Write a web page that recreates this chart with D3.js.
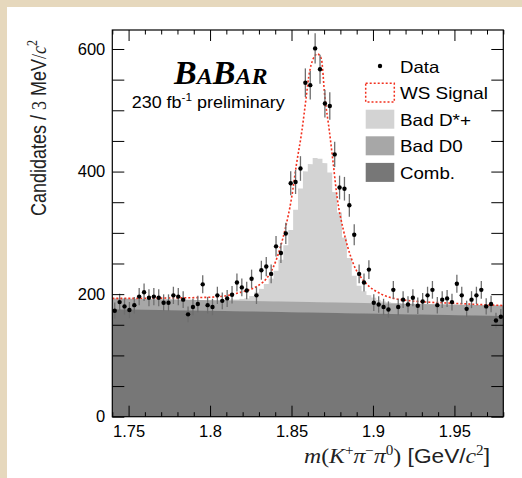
<!DOCTYPE html>
<html>
<head>
<meta charset="utf-8">
<script src="https://cdn.jsdelivr.net/npm/d3@7"></script>
<style>
  body { margin: 0; background: #e6d8bd; }
  svg { display: block; }
</style>
</head>
<body>
<svg id="chart" width="522" height="478"></svg>
<script>
// m(K+ pi- pi0) spectrum, 80 bins of 3 MeV between 1.74 and 1.98 GeV/c^2
const massRange = [1.74, 1.98];
const binWidth = 0.003;

// observed candidates per bin
const dataCounts = [
  173, 187, 180, 174, 182, 196, 203, 194, 196, 194,
  186, 186, 198, 196, 191, 167, 179, 184, 216, 182,
  179, 198, 189, 193, 199, 219, 211, 206, 225, 198,
  239, 245, 233, 278, 267, 299, 381, 383, 405, 545,
  541, 601, 567, 511, 507, 428, 374, 372, 345, 297,
  233, 219, 240, 186, 183, 179, 175, 207, 179, 191,
  183, 194, 181, 188, 198, 207, 182, 191, 193, 187,
  217, 198, 176, 191, 198, 207, 180, 184, 157, 163
];

// mis-reconstructed D*+ component, per bin
const badDstarCounts = [
  0, 0, 0, 0, 0, 0, 0, 0, 0, 0,
  0, 0, 0, 0, 0, 0, 0, 0, 0, 0,
  0, 0, 1, 1, 2, 2, 3, 4, 8, 14,
  20, 28, 37, 50, 68, 92, 117, 150, 185, 213,
  225, 235, 234, 227, 212, 180, 147, 106, 73, 44,
  28, 19, 13, 9, 5, 3, 2, 1, 1, 0,
  0, 0, 0, 0, 0, 0, 0, 0, 0, 0,
  0, 0, 0, 0, 0, 0, 0, 0, 0, 0
];

// smooth background components, level at the low and high mass edge
const badD0Ends = [17.5, 17.0];
const combEnds = [175.5, 164.5];

// total fit curve (WS signal on top of the backgrounds)
const fitMass = [1.740, 1.770, 1.800, 1.816, 1.8327, 1.8405, 1.8459, 1.8501, 1.8531, 1.8563,
                 1.8590, 1.8606, 1.8635, 1.8659, 1.8683, 1.8705, 1.8732, 1.8756, 1.8780, 1.8819,
                 1.8879, 1.8960, 1.9044, 1.9200, 1.9500, 1.9800];
const fitValue = [193, 193.5, 195, 201, 220, 255, 304, 358, 413, 465,
                  521, 555, 585, 592, 584, 521, 467, 413, 358, 304,
                  250, 217, 201, 190, 185, 181.5];

const yTicks = [0, 50, 100, 150, 200, 250, 300, 350, 400, 450, 500, 550, 600];
const yLabels = [0, 200, 400, 600];
const xMajor = [1.75, 1.8, 1.85, 1.9, 1.95];
const xMinor = [1.74, 1.76, 1.77, 1.78, 1.79, 1.81, 1.82, 1.83, 1.84, 1.86, 1.87, 1.88, 1.89,
                1.91, 1.92, 1.93, 1.94, 1.96, 1.97, 1.98];
const xLabels = ["1.75", "1.8", "1.85", "1.9", "1.95"];
const legendLabels = ["Data", "WS Signal", "Bad D*+", "Bad D0", "Comb."];

const colors = { comb: "#777777", badD0: "#a7a7a7", badDstar: "#d3d3d3", fit: "#f2301e" };

const svg = d3.select("#chart");
const W = 522, H = 478;
const plot = { left: 112.3, right: 503.3, top: 30, bottom: 416.7 };

// page background and white canvas
svg.append("rect").attr("width", W).attr("height", H).attr("fill", "#e6d8bd");
svg.append("rect").attr("x", 7).attr("y", 7).attr("width", W - 7).attr("height", H - 7).attr("fill", "#ffffff");

const x = d3.scaleLinear().domain(massRange).range([plot.left, plot.right]);
const y = d3.scaleLinear().domain([0, 631]).range([plot.bottom, plot.top]);

const combAt = d3.scaleLinear().domain(massRange).range(combEnds);
const badD0At = d3.scaleLinear().domain(massRange).range(badD0Ends);
const baseAt = m => combAt(m) + badD0At(m);

const g = svg.append("g");

// Bad D*+ stacked histogram on top of the smooth backgrounds
const dstarPts = [];
badDstarCounts.forEach((c, i) => {
  const e0 = massRange[0] + i * binWidth, e1 = e0 + binWidth;
  dstarPts.push({ m: e0, lo: baseAt(e0), hi: baseAt(e0) + c });
  dstarPts.push({ m: e1, lo: baseAt(e1), hi: baseAt(e1) + c });
});
g.append("path")
  .datum(dstarPts)
  .attr("fill", colors.badDstar)
  .attr("d", d3.area().x(d => x(d.m)).y0(d => y(d.lo) + 0.5).y1(d => y(d.hi)));

// Bad D0 band
g.append("path")
  .datum(massRange)
  .attr("fill", colors.badD0)
  .attr("d", d3.area().x(m => x(m)).y0(m => y(combAt(m)) + 0.5).y1(m => y(baseAt(m))));

// combinatorial background
g.append("path")
  .datum(massRange)
  .attr("fill", colors.comb)
  .attr("d", d3.area().x(m => x(m)).y0(y(0)).y1(m => y(combAt(m))));

// total fit
const fitPts = fitMass.map((m, i) => [m, fitValue[i]]);
g.append("path")
  .datum(fitPts)
  .attr("fill", "none")
  .attr("stroke", colors.fit)
  .attr("stroke-width", 1.6)
  .attr("stroke-dasharray", "2,2")
  .attr("d", d3.line().x(d => x(d[0])).y(d => y(d[1])).curve(d3.curveMonotoneX));

// data with Poisson errors
const pts = dataCounts.map((n, i) => ({ m: massRange[0] + (i + 0.5) * binWidth, n }));
g.append("g").selectAll("line").data(pts).join("line")
  .attr("x1", d => x(d.m)).attr("x2", d => x(d.m))
  .attr("y1", d => y(d.n + Math.sqrt(d.n))).attr("y2", d => y(d.n - Math.sqrt(d.n)))
  .attr("stroke", "#6e6e6e").attr("stroke-width", 1.3);
g.append("g").selectAll("circle").data(pts).join("circle")
  .attr("cx", d => x(d.m)).attr("cy", d => y(d.n)).attr("r", 2.2).attr("fill", "#000");

// axes: ticks drawn inward on all four sides
const tickFont = "'Liberation Sans', Arial, Helvetica, sans-serif";
function styleAxis(sel) {
  sel.select(".domain").remove();
  sel.selectAll(".tick line").attr("stroke", "#000").attr("stroke-width", 1);
  sel.selectAll(".tick text").attr("font-family", tickFont).attr("font-size", 16.5).attr("fill", "#000");
}

svg.append("g").attr("transform", `translate(${plot.left},0)`)
  .call(d3.axisLeft(y).tickValues(yTicks).tickSize(-12).tickPadding(7)
    .tickFormat(d => yLabels.includes(d) ? String(d) : ""))
  .call(styleAxis);
svg.append("g").attr("transform", `translate(${plot.right},0)`)
  .call(d3.axisRight(y).tickValues(yTicks).tickSize(-12).tickFormat(""))
  .call(styleAxis);

svg.append("g").attr("transform", `translate(0,${plot.bottom})`)
  .call(d3.axisBottom(x).tickValues(xMajor).tickSize(-11).tickPadding(9)
    .tickFormat((d, i) => xLabels[i]))
  .call(styleAxis);
svg.append("g").attr("transform", `translate(0,${plot.bottom})`)
  .call(d3.axisBottom(x).tickValues(xMinor).tickSize(-4.5).tickFormat(""))
  .call(styleAxis);
svg.append("g").attr("transform", `translate(0,${plot.top})`)
  .call(d3.axisTop(x).tickValues(xMajor).tickSize(-11).tickFormat(""))
  .call(styleAxis);
svg.append("g").attr("transform", `translate(0,${plot.top})`)
  .call(d3.axisTop(x).tickValues(xMinor).tickSize(-4.5).tickFormat(""))
  .call(styleAxis);

// frame
svg.append("rect")
  .attr("x", plot.left).attr("y", plot.top)
  .attr("width", plot.right - plot.left).attr("height", plot.bottom - plot.top)
  .attr("fill", "none").attr("stroke", "#000").attr("stroke-width", 1.2);

// legend
const serif = "'Liberation Serif', 'Times New Roman', serif";
const sans = tickFont;
const leg = svg.append("g");
const legX = 365.7, legTextX = 400, rowY0 = 66, rowStep = 26.6;
const legWidths = [39.3, 88, 71, 62.7, 55];
leg.append("circle").attr("cx", 380).attr("cy", rowY0).attr("r", 2.2).attr("fill", "#000");
leg.append("rect").attr("x", legX).attr("y", rowY0 + rowStep - 9.3).attr("width", 28.6).attr("height", 18.6)
  .attr("fill", "none").attr("stroke", colors.fit).attr("stroke-width", 1.5).attr("stroke-dasharray", "2,2");
[colors.badDstar, colors.badD0, colors.comb].forEach((c, k) => {
  leg.append("rect").attr("x", legX).attr("y", rowY0 + (k + 2) * rowStep - 9.5)
    .attr("width", 28.6).attr("height", 19).attr("fill", c);
});
legendLabels.forEach((t, k) => {
  leg.append("text")
    .attr("x", legTextX).attr("y", rowY0 + k * rowStep + 6.5)
    .attr("font-family", sans).attr("font-size", 16.5)
    .attr("textLength", legWidths[k]).attr("lengthAdjust", "spacingAndGlyphs")
    .text(t);
});

// experiment label
const logo = svg.append("text").attr("x", 174).attr("y", 84)
  .attr("font-family", serif).attr("font-weight", "bold").attr("font-style", "italic");
[["B", 34], ["A", 24], ["B", 34], ["AR", 24]].forEach(([s, fs]) => logo.append("tspan").attr("font-size", fs).text(s));

const lumi = svg.append("text").attr("x", 131.7).attr("y", 108)
  .attr("font-family", sans).attr("font-size", 16)
  .attr("textLength", 153).attr("lengthAdjust", "spacingAndGlyphs");
lumi.append("tspan").text("230 fb");
lumi.append("tspan").attr("font-size", 10.5).attr("dy", -7).text("-1");
lumi.append("tspan").attr("dy", 7).text(" preliminary");

// x axis title
const xt = svg.append("text").attr("x", 490).attr("y", 463).attr("text-anchor", "end")
  .attr("fill", "#222").attr("textLength", 186).attr("lengthAdjust", "spacingAndGlyphs");
const xparts = [
  ["m", serif, "italic", 22, 0], ["(", serif, "normal", 22, 0], ["K", serif, "italic", 22, 0],
  ["+", serif, "normal", 14, -8], ["π", serif, "italic", 22, 8], ["−", serif, "normal", 14, -8],
  ["π", serif, "italic", 22, 8], ["0", serif, "normal", 14, -8], [")", serif, "normal", 22, 8],
  [" [GeV/", sans, "normal", 21, 0], ["c", serif, "italic", 22, 0], ["2", serif, "normal", 14, -8],
  ["]", sans, "normal", 21, 8]
];
xparts.forEach(([s, f, st, fs, dy]) => xt.append("tspan").attr("font-family", f).attr("font-style", st)
  .attr("font-size", fs).attr("dy", dy).text(s));

// y axis title
const yt = svg.append("text").attr("transform", "translate(45.5,40) rotate(-90) scale(1,1.2)")
  .attr("text-anchor", "end").attr("font-size", 18).attr("fill", "#222");
const yparts = [
  ["Candidates / ", sans, "normal", 18, 0], ["3", serif, "normal", 18, 0], [" MeV", sans, "normal", 18, 0],
  ["/", serif, "normal", 18, 0], ["c", serif, "italic", 18, 0], ["2", serif, "normal", 12, -7]
];
yparts.forEach(([s, f, st, fs, dy]) => yt.append("tspan").attr("font-family", f).attr("font-style", st)
  .attr("font-size", fs).attr("dy", dy).text(s));
</script>
</body>
</html>
